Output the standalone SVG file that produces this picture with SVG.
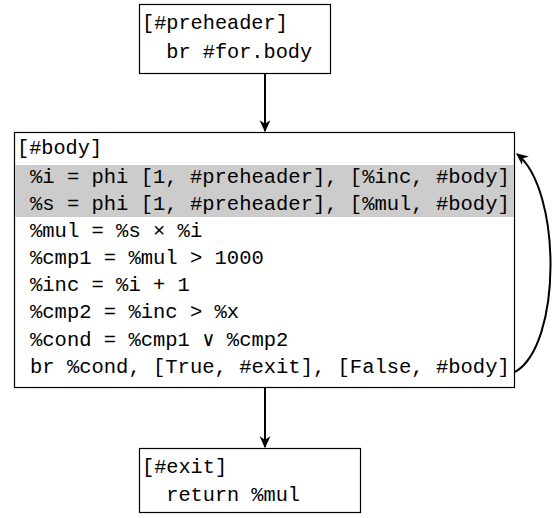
<svg xmlns="http://www.w3.org/2000/svg" width="553" height="518" viewBox="0 0 553 518">
  <style>
    .box { fill: #ffffff; stroke: #000000; stroke-width: 1.2; }
    .hl { fill: #cccccc; stroke: none; }
    .code { font-family: "Liberation Mono", "DejaVu Sans Mono", monospace; font-size: 20.25px; fill: #000000; white-space: pre; }
    .stmt { font-size: 20.5px; }
    .edge { fill: none; stroke: #000000; stroke-width: 2; }
  </style>
  <defs>
    <marker id="arrow" viewBox="0 0 10 10" refX="9" refY="5" markerWidth="6" markerHeight="6" orient="auto" markerUnits="strokeWidth">
      <path d="M0,0.5 L10,5 L0,9.5 L3,5 Z" fill="#000000"/>
    </marker>
  </defs>

  <g id="preheader">
    <rect class="box" x="139.5" y="4.5" width="191" height="69"/>
    <text class="code" x="142" y="29">[#preheader]</text>
    <text class="code" x="142" y="58">  br #for.body</text>
  </g>

  <g id="body">
    <rect class="box" x="14.5" y="132.5" width="500" height="255"/>
    <rect class="hl" x="15" y="165" width="499" height="52"/>
    <text class="code" x="17" y="154">[#body]</text>
    <!-- statements, indented under the block label -->
    <g class="code stmt">
      <text x="30" y="183">%i = phi [1, #preheader], [%inc, #body]</text>
      <text x="30" y="210">%s = phi [1, #preheader], [%mul, #body]</text>
      <text x="30" y="237">%mul = %s × %i</text>
      <text x="30" y="264">%cmp1 = %mul &gt; 1000</text>
      <text x="30" y="291">%inc = %i + 1</text>
      <text x="30" y="318">%cmp2 = %inc &gt; %x</text>
      <text x="30" y="346">%cond = %cmp1 ∨ %cmp2</text>
      <text x="30" y="373">br %cond, [True, #exit], [False, #body]</text>
    </g>
  </g>

  <g id="exit">
    <rect class="box" x="139.5" y="448.5" width="221" height="64"/>
    <text class="code" x="142" y="473">[#exit]</text>
    <text class="code" x="142" y="501">  return %mul</text>
  </g>

  <g id="connectors">
    <path class="edge" d="M265,74 L265,131" marker-end="url(#arrow)"/>
    <path class="edge" d="M265,388 L265,447" marker-end="url(#arrow)"/>
    <path class="edge" d="M515,372 C562,345 562,190 517,154" marker-end="url(#arrow)"/>
  </g>
</svg>
